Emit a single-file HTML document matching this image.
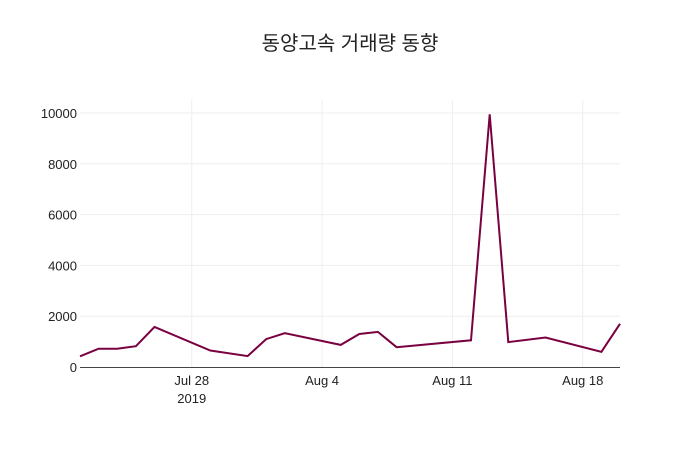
<!DOCTYPE html>
<html><head><meta charset="utf-8">
<style>
body{margin:0;background:#fff;}
svg text{font-family:"Liberation Sans","Noto Sans CJK KR",sans-serif;}
</style></head>
<body>
<svg id="chart" width="700" height="450">
<text x="350" y="50" text-anchor="middle" font-size="20" fill="#222">동양고속 거래량 동향</text>
<g id="grid"></g>
<g id="axes"></g>
<path id="line" fill="none" stroke="#7a0040" stroke-width="2"></path>
</svg>
<script>
const dates = ["2019-07-22","2019-07-23","2019-07-24","2019-07-25","2019-07-26","2019-07-29","2019-07-31","2019-08-01","2019-08-02","2019-08-05","2019-08-06","2019-08-07","2019-08-08","2019-08-12","2019-08-13","2019-08-14","2019-08-16","2019-08-19","2019-08-20"];
const volumes = [420,720,720,820,1580,650,430,1100,1330,870,1300,1380,780,1050,9950,980,1160,600,1700];
const yTicks = [0,2000,4000,6000,8000,10000];
const xTickDates = ["2019-07-28","2019-08-04","2019-08-11","2019-08-18"];
const xTickLabels = ["Jul 28","Aug 4","Aug 11","Aug 18"];

const X0=80,X1=620,Y0=367,Y1=113;
const d0=Date.parse("2019-07-22"), d1=Date.parse("2019-08-20");
const xs=d=>X0+(Date.parse(d)-d0)/(d1-d0)*(X1-X0);
const ys=v=>Y0-(v/10000)*(Y0-Y1);
const NS="http://www.w3.org/2000/svg";
const grid=document.getElementById('grid'), axes=document.getElementById('axes');
function mk(tag,attrs,parent){const e=document.createElementNS(NS,tag);for(const k in attrs)e.setAttribute(k,attrs[k]);parent.appendChild(e);return e;}
yTicks.forEach(v=>{
  const y=ys(v);
  if(v>0){const l=mk('line',{x1:X0,x2:X1,y1:y,y2:y,stroke:'#eee'},grid);
  
  }
  const t=mk('text',{x:X0-3,y:y+5,'text-anchor':'end','font-size':13,fill:'#222'},axes);
  t.textContent=v;
  
  
});
xTickDates.forEach((d,i)=>{
  const x=xs(d);
  const l=mk('line',{x1:x,x2:x,y1:100,y2:Y0,stroke:'#eee'},grid);
  
  
  const t=mk('text',{x:x,y:385,'text-anchor':'middle','font-size':13,fill:'#222'},axes);
  t.textContent=xTickLabels[i];
  
  
});
const yr=mk('text',{x:xs("2019-07-28"),y:403,'text-anchor':'middle','font-size':13,fill:'#222'},axes);
yr.textContent="2019";


const ax=mk('line',{x1:X0,x2:X1,y1:Y0+0.5,y2:Y0+0.5,stroke:'#444'},axes);


document.getElementById('line').setAttribute('d',dates.map((d,i)=>(i?'L':'M')+xs(d).toFixed(1)+','+ys(volumes[i]).toFixed(1)).join(''));
</script>
</body></html>
